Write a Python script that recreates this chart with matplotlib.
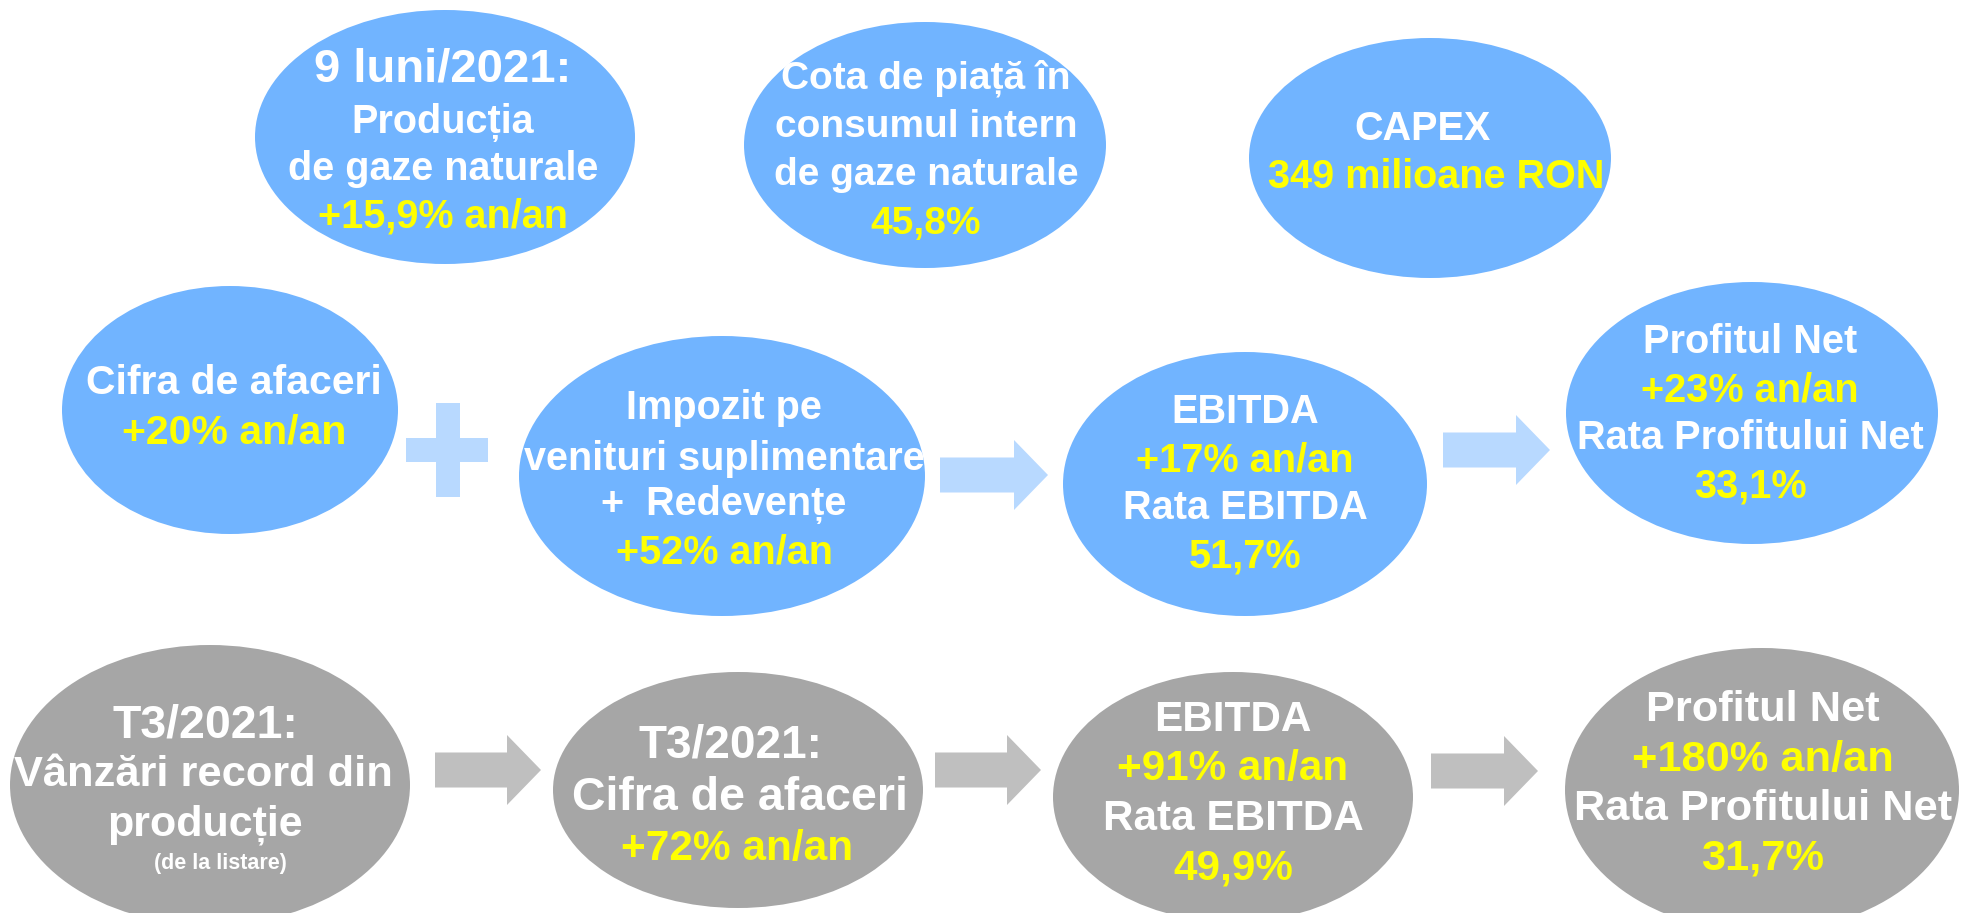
import matplotlib
matplotlib.use("Agg")
import matplotlib.pyplot as plt
from matplotlib.patches import Ellipse, FancyArrow, Rectangle

# ---------------- data (text content) ----------------
blue_nodes = [
    ["9 luni/2021:", "Producția", "de gaze naturale", "+15,9% an/an"],
    ["Cota de piață în", "consumul intern", "de gaze naturale", "45,8%"],
    ["CAPEX", "349 milioane RON"],
    ["Cifra de afaceri", "+20% an/an"],
    ["Impozit pe", "venituri suplimentare", "+  Redevențe", "+52% an/an"],
    ["EBITDA", "+17% an/an", "Rata EBITDA", "51,7%"],
    ["Profitul Net", "+23% an/an", "Rata Profitului Net", "33,1%"],
]
grey_nodes = [
    ["T3/2021:", "Vânzări record din", "producție", "(de la listare)"],
    ["T3/2021:", "Cifra de afaceri", "+72% an/an"],
    ["EBITDA", "+91% an/an", "Rata EBITDA", "49,9%"],
    ["Profitul Net", "+180% an/an", "Rata Profitului Net", "31,7%"],
]

# ---------------- layout (pixels) ----------------
blue_ell = [(445, 137, 190, 127), (925, 145, 181, 123), (1430, 158, 181, 120),
            (230, 410, 168, 124), (722, 476, 203, 140), (1245, 484, 182, 132),
            (1752, 413, 186, 131)]
grey_ell = [(210, 785, 200, 140), (738, 790, 185, 118), (1233, 797, 180, 125),
            (1762, 790, 197, 142)]
blue_text_x = [[443] * 4, [926] * 4, [1422, 1436], [234] * 2, [724] * 4,
               [1245] * 4, [1750] * 4]
grey_text_x = [[205, 203, 205, 220], [730, 740, 737], [1233] * 4, [1763] * 4]
blue_text_y = [[69, 123, 169, 216], [78, 127, 175, 224], [129, 177], [383, 433],
               [408, 459, 505, 553], [412, 460, 508, 556], [342, 391, 438, 486]]
grey_text_y = [[726, 775, 825, 863], [745, 798, 849], [720, 769, 819, 869],
               [710, 760, 809, 859]]
blue_sizes = [[34, 28.5, 28.5, 28.5], [28, 28, 28, 28], [28.5, 28.5], [29.5, 29.5],
              [28.5, 28.5, 28.5, 28.5], [28.6] * 4, [28.6] * 4]
grey_sizes = [[33.5, 31.2, 31, 15.5], [33, 33.5, 30.5], [30.4] * 4, [31.2] * 4]

# arrows: (x_start, x_end, y_center)
blue_arrows = [(940, 1048, 475), (1443, 1550, 450)]
grey_arrows = [(435, 541, 770), (935, 1041, 770), (1431, 1538, 771)]

BLUE = "#71B4FF"
LIGHT_BLUE = "#B8D9FF"
GREY = "#A6A6A6"
LIGHT_GREY = "#BFBFBF"
YELLOW = "#FFFF00"

W, H = 1970, 913
fig = plt.figure(figsize=(W / 100, H / 100), dpi=100)
ax = fig.add_axes([0, 0, 1, 1])
ax.set_xlim(0, W)
ax.set_ylim(H, 0)
ax.axis("off")

FONT = ["Liberation Sans", "DejaVu Sans"]


def is_value(line):
    return line.endswith("%") or line.endswith("an/an") or line.endswith("RON")


def draw_nodes(nodes, ells, xs, ys, sizes, color):
    for lines, (cx, cy, rx, ry), txs, tys, szs in zip(nodes, ells, xs, ys, sizes):
        ax.add_patch(Ellipse((cx, cy), 2 * rx, 2 * ry, facecolor=color,
                             edgecolor="none", zorder=1))
        for line, tx, ty, sz in zip(lines, txs, tys, szs):
            ax.text(tx, ty, line, ha="center", va="center", fontsize=sz,
                    fontweight="bold", family=FONT,
                    color=YELLOW if is_value(line) else "white", zorder=3)


def draw_arrows(arrows, color):
    for x0, x1, yc in arrows:
        ax.add_patch(FancyArrow(x0, yc, x1 - x0, 0, width=35, head_width=70,
                                head_length=34, length_includes_head=True,
                                facecolor=color, edgecolor="none", zorder=2))


draw_nodes(blue_nodes, blue_ell, blue_text_x, blue_text_y, blue_sizes, BLUE)
draw_nodes(grey_nodes, grey_ell, grey_text_x, grey_text_y, grey_sizes, GREY)
draw_arrows(blue_arrows, LIGHT_BLUE)
draw_arrows(grey_arrows, LIGHT_GREY)

# plus sign between turnover and taxes
ax.add_patch(Rectangle((436, 403), 24, 94, facecolor=LIGHT_BLUE, edgecolor="none", zorder=2))
ax.add_patch(Rectangle((406, 438), 82, 24, facecolor=LIGHT_BLUE, edgecolor="none", zorder=2))

fig.savefig("out.png", dpi=100, facecolor="white")
